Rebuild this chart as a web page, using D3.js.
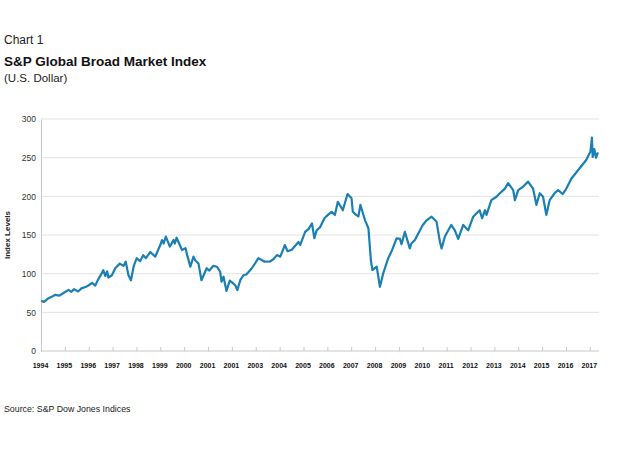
<!DOCTYPE html>
<html>
<head>
<meta charset="utf-8">
<script src="https://cdn.jsdelivr.net/npm/d3@7"></script>
<style>
  body { margin: 0; background: #fff; }
  svg { display: block; font-family: "Liberation Sans", Arial, sans-serif; }
</style>
</head>
<body>
<svg id="chart" width="644" height="450"></svg>
<script>
// chart values (one line per year)
const dates = [
  "1995-01-03","1995-02-15","1995-04-20","1995-06-10","1995-08-01","1995-10-10","1995-12-10",
  "1996-02-25","1996-04-10","1996-05-20","1996-07-20","1996-09-10","1996-11-20","1996-12-31",
  "1997-02-20","1997-04-10","1997-05-20","1997-07-15","1997-08-10","1997-09-10","1997-10-08","1997-10-28","1997-12-20",
  "1998-02-10","1998-04-20","1998-06-15","1998-07-20","1998-08-31","1998-10-08","1998-11-20",
  "1999-01-05","1999-02-25","1999-04-15","1999-05-25","1999-07-30","1999-10-15","1999-12-31",
  "2000-01-25","2000-02-20","2000-03-25","2000-05-25","2000-07-20","2000-08-10","2000-09-05","2000-11-28",
  "2001-01-20","2001-02-15","2001-04-04","2001-05-22","2001-06-20","2001-08-07","2001-09-21","2001-12-10",
  "2002-01-20","2002-03-20","2002-05-15","2002-07-05","2002-07-25","2002-08-25","2002-10-09","2002-11-28",
  "2003-01-01","2003-02-20","2003-03-25","2003-05-10","2003-06-28","2003-08-10","2003-11-01",
  "2004-02-10","2004-03-25","2004-05-15","2004-08-10","2004-09-30","2004-11-20",
  "2005-01-10","2005-03-20","2005-05-01","2005-07-05","2005-10-15","2005-11-10",
  "2006-01-25","2006-03-20","2006-05-10","2006-06-15","2006-07-20","2006-09-10","2006-11-20",
  "2007-01-10","2007-03-05","2007-04-25","2007-06-10","2007-08-25","2007-11-05",
  "2008-01-05","2008-01-25","2008-03-15","2008-04-20","2008-05-20","2008-07-30","2008-09-20","2008-10-27","2008-11-20",
  "2009-01-25","2009-03-15","2009-05-05","2009-07-20","2009-09-15","2009-11-25",
  "2010-01-15","2010-02-08","2010-04-01","2010-06-15","2010-07-10","2010-09-01","2010-12-31",
  "2011-02-28","2011-05-15","2011-07-30","2011-09-20","2011-10-15","2011-12-05",
  "2012-03-10","2012-05-05","2012-06-25","2012-09-10","2012-11-25",
  "2013-02-10","2013-04-25","2013-05-20","2013-06-25","2013-08-10","2013-09-01","2013-11-15",
  "2014-02-01","2014-03-25","2014-06-10","2014-07-30","2014-10-15","2014-11-10",
  "2015-01-01","2015-03-15","2015-05-30","2015-08-15","2015-10-05","2015-11-25",
  "2016-01-15","2016-03-05","2016-04-25","2016-07-10","2016-09-01","2016-11-10",
  "2017-01-05","2017-03-25","2017-07-25","2017-11-05",
  "2018-01-10","2018-02-01","2018-02-12","2018-03-10","2018-04-05","2018-05-05"
];
const indexValues = [
  65,63.5,68,70,72.5,71.5,75,
  79,76.5,80,77,81,83,85,
  88,84.5,92,100,104.5,97,103,95,98,
  107,113,110,115.5,98,91.5,110,
  120,116,124,120,128,122,137,
  143.5,139,148,135,143.5,139,146.5,130.6,
  133,124,109,122,117,113,91.5,107,
  104,110,109,102.5,89.6,96,77.6,91,
  88.8,85,78.9,92,98,99,107,
  120,118,115.5,116,119,124,
  122,137,129,131,141,137,
  154,158,165,146,156,160,172,
  176,180,176,193,182,203,
  197.5,180,176,174,189,169,158.7,117.7,104.7,
  109,83,100.5,120,130,145.7,
  145,138,154,132.7,139,143.5,163,
  169,173.7,167,141,132.7,148,
  163,156,145,163,156,
  173.7,180,182,171.6,182,176,195,
  199.5,204,210,217,208,195,
  208,212.5,219,210,189,204,
  199.5,176,195,204,208,203,
  210,223,236,247,
  258,276,251,261,250,257
];
// x ticks sit at year ends; labels as printed on the original (2001 appears twice)
const tickDates = [
  "1994-12-31","1995-12-31","1996-12-31","1997-12-31","1998-12-31","1999-12-31",
  "2000-12-31","2001-12-31","2002-12-31","2003-12-31","2004-12-31","2005-12-31",
  "2006-12-31","2007-12-31","2008-12-31","2009-12-31","2010-12-31","2011-12-31",
  "2012-12-31","2013-12-31","2014-12-31","2015-12-31","2016-12-31","2017-12-31"
];
const tickLabels = [
  "1994","1995","1996","1997","1998","1999","2000","2001","2001","2003","2004","2005",
  "2006","2007","2008","2009","2010","2011","2012","2013","2014","2015","2016","2017"
];
const yTicks = [0, 50, 100, 150, 200, 250, 300];

const parseDate = d3.timeParse("%Y-%m-%d");
const series = dates.map((d, i) => ({ date: parseDate(d), value: indexValues[i] }));
const tickDateObjs = tickDates.map(parseDate);

const svg = d3.select("#chart");

// plot area
const plotLeft = 41, plotRight = 599, plotTop = 119, plotBottom = 351;

const xScale = d3.scaleTime()
  .domain([tickDateObjs[0], parseDate("2018-05-05")])
  .range([plotLeft, 598]);

const yScale = d3.scaleLinear()
  .domain([0, 300])
  .range([plotBottom, plotTop]);

// titles
svg.append("text").attr("x", 4).attr("y", 44)
  .style("font-size", "12px").style("fill", "#222").text("Chart 1");
svg.append("text").attr("x", 4).attr("y", 66)
  .style("font-size", "13.5px").style("font-weight", "bold").style("fill", "#111")
  .text("S&P Global Broad Market Index");
svg.append("text").attr("x", 4).attr("y", 82)
  .style("font-size", "11.5px").style("fill", "#222").text("(U.S. Dollar)");

// gridlines
svg.append("g")
  .selectAll("line")
  .data(yTicks.filter(v => v > 0))
  .enter()
  .append("line")
  .attr("x1", plotLeft).attr("x2", plotRight)
  .attr("y1", d => yScale(d)).attr("y2", d => yScale(d))
  .attr("stroke", "#e3e3e3").attr("stroke-width", 1);

// y axis
const yAxis = d3.axisLeft(yScale).tickValues(yTicks).tickSize(0).tickPadding(5);
const yG = svg.append("g").attr("transform", "translate(" + plotLeft + ",0)").call(yAxis);
yG.select(".domain").attr("stroke", "#c8c8c8");
yG.selectAll("text").style("font-size", "8.5px").style("fill", "#333")
  .style("font-family", "'Liberation Sans', Arial, sans-serif");

svg.append("text")
  .attr("transform", "translate(10,235) rotate(-90)")
  .attr("text-anchor", "middle")
  .style("font-size", "8px").style("font-weight", "bold").style("fill", "#222")
  .text("Index Levels");

// x axis
const xAxis = d3.axisBottom(xScale)
  .tickValues(tickDateObjs)
  .tickFormat((d, i) => tickLabels[i])
  .tickSizeInner(-4).tickSizeOuter(0).tickPadding(12);
const xG = svg.append("g").attr("transform", "translate(0," + plotBottom + ")").call(xAxis);
xG.select(".domain").attr("d", "M" + plotLeft + ",0H" + plotRight).attr("stroke", "#c8c8c8");
xG.selectAll(".tick line").attr("stroke", "#c8c8c8");
xG.selectAll("text").attr("dx", -1)
  .style("font-size", "7px").style("font-weight", "bold").style("fill", "#111")
  .style("font-family", "'Liberation Sans', Arial, sans-serif");

// the index line
const line = d3.line()
  .x(d => xScale(d.date))
  .y(d => yScale(d.value));

svg.append("path")
  .datum(series)
  .attr("d", line)
  .attr("fill", "none")
  .attr("stroke", "#1a7fb3")
  .attr("stroke-width", 2.2)
  .attr("stroke-linejoin", "round");

// source note
svg.append("text").attr("x", 4).attr("y", 412)
  .style("font-size", "8.8px").style("fill", "#222")
  .text("Source: S&P Dow Jones Indices");
</script>
</body>
</html>
